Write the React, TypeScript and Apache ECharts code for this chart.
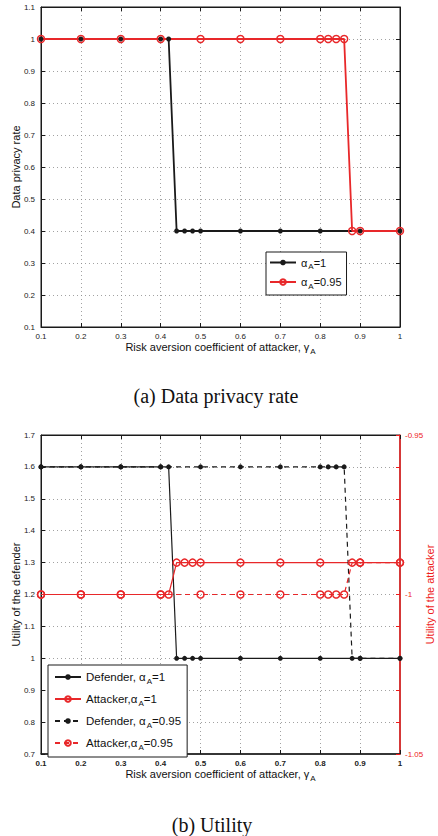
import React, { useEffect, useRef } from "react";
import * as echarts from "echarts";

// ---- data ----
const xAlpha1 = [0.1, 0.2, 0.3, 0.4, 0.42, 0.44, 0.46, 0.48, 0.5, 0.6, 0.7, 0.8, 0.9, 1];
const xAlpha095 = [0.1, 0.2, 0.3, 0.4, 0.5, 0.6, 0.7, 0.8, 0.82, 0.84, 0.86, 0.88, 0.9, 1];

const privacyAlpha1 = [1, 1, 1, 1, 1, 0.4, 0.4, 0.4, 0.4, 0.4, 0.4, 0.4, 0.4, 0.4];
const privacyAlpha095 = [1, 1, 1, 1, 1, 1, 1, 1, 1, 1, 1, 0.4, 0.4, 0.4];

const defenderAlpha1 = [1.6, 1.6, 1.6, 1.6, 1.6, 1, 1, 1, 1, 1, 1, 1, 1, 1];
const defenderAlpha095 = [1.6, 1.6, 1.6, 1.6, 1.6, 1.6, 1.6, 1.6, 1.6, 1.6, 1.6, 1, 1, 1];
const attackerAlpha1 = [-1, -1, -1, -1, -1, -0.99, -0.99, -0.99, -0.99, -0.99, -0.99, -0.99, -0.99, -0.99];
const attackerAlpha095 = [-1, -1, -1, -1, -1, -1, -1, -1, -1, -1, -1, -0.99, -0.99, -0.99];

const rightAxisLabels = [-0.95, -1, -1.05];

const BLACK = "#1a1a1a";
const RED = "#e8282a";
const AXRED = "#ee1c1c";
const SANS = "'Liberation Sans', Arial, sans-serif";
const SERIF = "'Liberation Serif', 'Times New Roman', serif";

const pairs = (xs: number[], ys: number[]) => xs.map((x, i) => [x, ys[i]]);

const makeRich = (fs: number) => ({
  g: { fontSize: fs, fontFamily: SANS, color: "#111", lineHeight: 16, verticalAlign: "middle" },
  s: { fontSize: 8, fontFamily: SANS, color: "#111", lineHeight: 10, verticalAlign: "bottom", padding: [0, 0, 0, 1] },
});

export default function App() {
  const ref = useRef<HTMLDivElement>(null);
  useEffect(() => {
    if (!ref.current) return;
    const chart = echarts.init(ref.current, undefined, { renderer: "svg" });

    const gridLine = { show: true, lineStyle: { color: "#8a8a8a", type: [1, 3] as any, width: 0.8 } };
    const tick = { show: true, inside: true, length: 4, lineStyle: { color: BLACK, width: 1 } };
    const xBase = (gridIndex: number, bold: boolean) => ({
      type: "value",
      gridIndex,
      min: 0.1,
      max: 1,
      interval: 0.1,
      axisLine: { show: true, onZero: false, lineStyle: { color: BLACK, width: bold ? 1.5 : 1 } },
      axisTick: tick,
      axisLabel: { fontSize: 8, fontFamily: SANS, color: "#222", margin: 5, fontWeight: bold ? "bold" : "normal" },
      splitLine: gridLine,
      name: "Risk aversion coefficient of attacker, {g|γ}{s|A}",
      nameLocation: "middle",
      nameGap: 12,
      nameMoveOverlap: false,
      nameTextStyle: { fontSize: 11, fontFamily: SANS, color: "#111", lineHeight: 16, rich: makeRich(11) },
    });
    const xTop = (gridIndex: number) => ({
      type: "value",
      gridIndex,
      position: "top",
      min: 0.1,
      max: 1,
      interval: 0.1,
      axisLine: { show: true, onZero: false, lineStyle: { color: BLACK, width: 1 } },
      axisTick: tick,
      axisLabel: { show: false },
      splitLine: { show: false },
    });

    const lineSeries = (
      name: string,
      xs: number[],
      ys: number[],
      color: string,
      hollow: boolean,
      dashed: boolean,
      width: number,
      xAxisIndex: number,
      yAxisIndex: number
    ) => ({
      type: "line",
      name,
      data: pairs(xs, ys),
      xAxisIndex,
      yAxisIndex,
      color,
      symbol: "circle",
      symbolSize: hollow ? 7 : 5,
      showSymbol: true,
      lineStyle: { color, width, type: dashed ? [5, 4] : "solid" },
      itemStyle: hollow
        ? { color: "rgba(255,255,255,0)", borderColor: color, borderWidth: 1.5 }
        : { color, borderWidth: 0 },
      emphasis: { disabled: true },
    });

    const legendLabels: Record<string, string> = {
      pA1: "{g|α}{s|A}{g|=1}",
      pA095: "{g|α}{s|A}{g|=0.95}",
      dA1: "{g|Defender, α}{s|A}{g|=1}",
      aA1: "{g|Attacker,α}{s|A}{g|=1}",
      dA095: "{g|Defender, α}{s|A}{g|=0.95}",
      aA095: "{g|Attacker,α}{s|A}{g|=0.95}",
    };

    const gridCommon = { show: true, borderColor: BLACK, borderWidth: 1, backgroundColor: "#fff", outerBoundsMode: "none", containLabel: false };

    const option: any = {
      animation: false,
      backgroundColor: "#fff",
      grid: [
        { left: 41, top: 7, width: 359, height: 320, ...gridCommon },
        { left: 41, top: 435, width: 359, height: 319, ...gridCommon },
      ],
      xAxis: [xBase(0, false), xTop(0), xBase(1, true), xTop(1)],
      yAxis: [
        {
          type: "value",
          gridIndex: 0,
          min: 0.1,
          max: 1.1,
          interval: 0.1,
          axisLine: { show: true, lineStyle: { color: BLACK, width: 1 } },
          axisTick: tick,
          axisLabel: { fontSize: 8, fontFamily: SANS, color: "#222", margin: 6 },
          splitLine: gridLine,
          name: "Data privacy rate",
          nameLocation: "middle",
          nameGap: 19.5,
          nameMoveOverlap: false,
          nameTextStyle: { fontSize: 11, fontFamily: SANS, color: "#111" },
        },
        {
          type: "value",
          gridIndex: 0,
          position: "right",
          min: 0.1,
          max: 1.1,
          interval: 0.1,
          axisLine: { show: true, lineStyle: { color: BLACK, width: 1 } },
          axisTick: tick,
          axisLabel: { show: false },
          splitLine: { show: false },
        },
        {
          type: "value",
          gridIndex: 1,
          min: 0.7,
          max: 1.7,
          interval: 0.1,
          axisLine: { show: true, lineStyle: { color: BLACK, width: 1 } },
          axisTick: tick,
          axisLabel: { fontSize: 8, fontFamily: SANS, color: "#222", margin: 6 },
          splitLine: gridLine,
          name: "Utility of the defender",
          nameLocation: "middle",
          nameGap: 19.5,
          nameMoveOverlap: false,
          nameTextStyle: { fontSize: 11, fontFamily: SANS, color: "#111" },
        },
        {
          type: "value",
          gridIndex: 1,
          position: "right",
          min: -1.05,
          max: -0.95,
          interval: 0.01,
          axisLine: { show: true, lineStyle: { color: AXRED, width: 1.5 } },
          axisTick: { show: true, inside: true, length: 4, lineStyle: { color: AXRED, width: 1 } },
          axisLabel: {
            fontSize: 8,
            fontFamily: SANS,
            color: AXRED,
            margin: 5,
            formatter: (v: number) => {
              const hit = rightAxisLabels.find((r) => Math.abs(r - v) < 1e-6);
              return hit === undefined ? "" : String(hit);
            },
          },
          splitLine: { show: false },
          name: "Utility of the attacker",
          nameLocation: "middle",
          nameRotate: 90,
          nameGap: 24.5,
          nameMoveOverlap: false,
          nameTextStyle: { fontSize: 11, fontFamily: SANS, color: AXRED },
        },
      ],
      legend: [
        {
          data: ["pA1", "pA095"],
          orient: "vertical",
          left: 266,
          top: 252,
          padding: [5, 5, 5, 3],
          itemGap: 6,
          itemWidth: 26,
          itemHeight: 7,
          borderColor: BLACK,
          borderWidth: 1,
          backgroundColor: "#fff",
          formatter: (n: string) => legendLabels[n],
          textStyle: { fontSize: 11, fontFamily: SANS, color: "#111", rich: makeRich(11) },
          selectedMode: false,
        },
        {
          data: ["dA1", "aA1", "dA095", "aA095"],
          orient: "vertical",
          left: 48,
          top: 665,
          padding: [6, 6, 6, 6],
          itemGap: 8,
          itemWidth: 26,
          itemHeight: 7,
          borderColor: BLACK,
          borderWidth: 1,
          backgroundColor: "#fff",
          formatter: (n: string) => legendLabels[n],
          textStyle: { fontSize: 11.5, fontFamily: SANS, color: "#111", rich: makeRich(11.5) },
          selectedMode: false,
        },
      ],
      series: [
        lineSeries("pA1", xAlpha1, privacyAlpha1, BLACK, false, false, 1.8, 0, 0),
        lineSeries("pA095", xAlpha095, privacyAlpha095, RED, true, false, 1.8, 0, 0),
        lineSeries("dA1", xAlpha1, defenderAlpha1, BLACK, false, false, 1.2, 2, 2),
        lineSeries("aA1", xAlpha1, attackerAlpha1, RED, true, false, 1.2, 2, 3),
        lineSeries("dA095", xAlpha095, defenderAlpha095, BLACK, false, true, 1.2, 2, 2),
        lineSeries("aA095", xAlpha095, attackerAlpha095, RED, true, true, 1.2, 2, 3),
      ],
      graphic: [
        {
          type: "text",
          x: 216,
          y: 396,
          style: { text: "(a) Data privacy rate", font: `20px ${SERIF}`, fill: "#111", align: "center", verticalAlign: "middle" },
        },
        {
          type: "text",
          x: 212,
          y: 825,
          style: { text: "(b) Utility", font: `20px ${SERIF}`, fill: "#111", align: "center", verticalAlign: "middle" },
        },
      ],
    };
    chart.setOption(option);
    return () => chart.dispose();
  }, []);
  return (
    <div
      ref={ref}
      style={{ position: "absolute", left: 0, top: 0, width: 438, height: 836, background: "#fff" }}
    />
  );
}
